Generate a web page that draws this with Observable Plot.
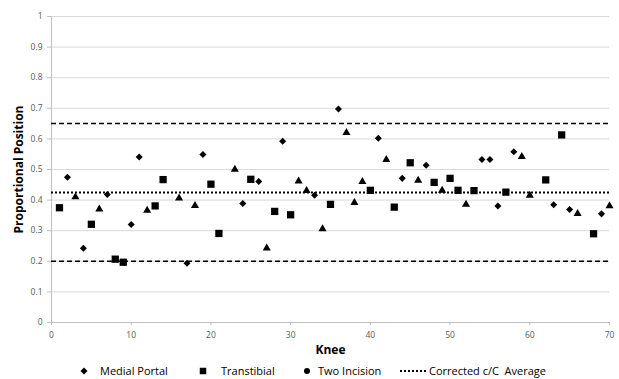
<!DOCTYPE html>
<html><head><meta charset="utf-8">
<script src="https://cdn.jsdelivr.net/npm/d3@7"></script>
<script src="https://cdn.jsdelivr.net/npm/@observablehq/plot@0.6"></script>
<style>
body{margin:0;background:#fff;font-family:"Open Sans",sans-serif}
#wrap{position:relative;width:619px;height:379px;overflow:hidden}
#legend{position:absolute;left:0;top:363px;width:619px;height:16px;font-size:11px;color:#000;font-family:"Open Sans",sans-serif}
#legend .it{position:absolute;top:0;line-height:16px;white-space:nowrap}
#legend svg{position:absolute;top:0}
</style></head><body>
<div id="wrap"><div id="chart"></div><div id="legend"></div></div>
<script>
const medialKnee = [2,4,7,10,11,17,19,24,26,29,33,36,41,44,47,54,55,56,58,63,65,69];
const medialVal  = [0.475,0.243,0.418,0.32,0.541,0.194,0.549,0.389,0.461,0.592,0.416,0.698,0.602,0.471,0.514,0.533,0.533,0.381,0.558,0.385,0.369,0.355];
const transKnee  = [1,5,8,9,13,14,20,21,25,28,30,35,40,43,45,48,50,51,53,57,62,64,68];
const transVal   = [0.375,0.321,0.207,0.197,0.381,0.467,0.452,0.291,0.468,0.363,0.352,0.386,0.432,0.377,0.522,0.458,0.471,0.432,0.431,0.426,0.466,0.613,0.29];
const twoKnee    = [3,6,12,16,18,23,27,31,32,34,37,38,39,42,46,49,52,59,60,66,70];
const twoVal     = [0.41,0.37,0.366,0.406,0.382,0.5,0.243,0.462,0.431,0.306,0.62,0.392,0.46,0.532,0.464,0.432,0.386,0.542,0.415,0.356,0.381];
const limitLines = [0.65, 0.2];
const averageLine = [0.425];
const xTicks = [0,10,20,30,40,50,60,70];
const yTicks = [0,0.1,0.2,0.3,0.4,0.5,0.6,0.7,0.8,0.9,1];
const seriesNames = ["Medial Portal","Transtibial","Two Incision","Corrected c/C  Average"];

const medial = medialKnee.map((k,i)=>({knee:k, val:medialVal[i]}));
const trans = transKnee.map((k,i)=>({knee:k, val:transVal[i]}));
const two = twoKnee.map((k,i)=>({knee:k, val:twoVal[i]}));

const chart = Plot.plot({
  width: 619, height: 363,
  marginLeft: 51, marginRight: 10, marginTop: 16, marginBottom: 41,
  style: {fontFamily: "'Open Sans', sans-serif", fontSize: "8.5px", color: "#595959", background: "#fff"},
  x: {domain: [0,70]},
  y: {domain: [0,1]},
  marks: [
    Plot.gridY(yTicks, {stroke: "#d9d9d9", strokeOpacity: 1}),
    Plot.ruleY([0], {stroke: "#bfbfbf"}),
    Plot.ruleX([0], {stroke: "#bfbfbf"}),
    Plot.ruleY(limitLines, {stroke: "#000", strokeWidth: 1.5, strokeDasharray: "5,3"}),
    Plot.ruleY(averageLine, {stroke: "#000", strokeWidth: 2, strokeDasharray: "2,2"}),
    Plot.dot(medial, {x: "knee", y: "val", symbol: "square", rotate: 45, r: 2.8, fill: "#000", stroke: "none"}),
    Plot.dot(trans, {x: "knee", y: "val", symbol: "square", r: 4.1, fill: "#000", stroke: "none"}),
    Plot.dot(two, {x: "knee", y: "val", symbol: "triangle", r: 3.0, fill: "#000", stroke: "none"}),
    Plot.axisX(xTicks, {tickFormat: d => String(d), tickSize: 3, tickPadding: 6, stroke: "#bfbfbf", fill: "#595959",
      label: "Knee", labelAnchor: "center", labelOffset: 31, labelArrow: "none"}),
    Plot.axisY(yTicks, {tickFormat: d => String(+d.toFixed(1)), tickSize: 4, tickPadding: 5, stroke: "#bfbfbf", fill: "#595959",
      label: "Proportional Position", labelAnchor: "center", labelOffset: 37, labelArrow: "none"})
  ]
});
document.getElementById("chart").append(chart);
// style axis titles
d3.select(chart).selectAll("[aria-label='x-axis label'] text, [aria-label='y-axis label'] text")
  .attr("font-weight", "bold").attr("font-size", "12px").attr("fill", "#000");

// legend
const leg = d3.select("#legend");
function sym(x, draw){
  const s = leg.append("svg").attr("width", 30).attr("height", 16).style("left", (x-15)+"px");
  draw(s.append("g").attr("transform","translate(15,8)"));
}
sym(84, g => g.append("path").attr("d", d3.symbol(d3.symbolSquare, 2.8*2.8*Math.PI)()).attr("transform","rotate(45)").attr("fill","#000"));
leg.append("div").attr("class","it").style("left","100px").text(seriesNames[0]);
sym(203, g => g.append("path").attr("d", d3.symbol(d3.symbolSquare, 42)()).attr("fill","#000"));
leg.append("div").attr("class","it").style("left","221px").text(seriesNames[1]);
sym(307, g => g.append("circle").attr("r", 3).attr("fill","#000"));
leg.append("div").attr("class","it").style("left","318px").text(seriesNames[2]);
sym(414, g => g.append("line").attr("x1",-14).attr("x2",13).attr("stroke","#000").attr("stroke-width",2).attr("stroke-dasharray","2,2"));
leg.append("div").attr("class","it").style("left","429px").style("white-space","pre").text(seriesNames[3]);
</script>
</body></html>
